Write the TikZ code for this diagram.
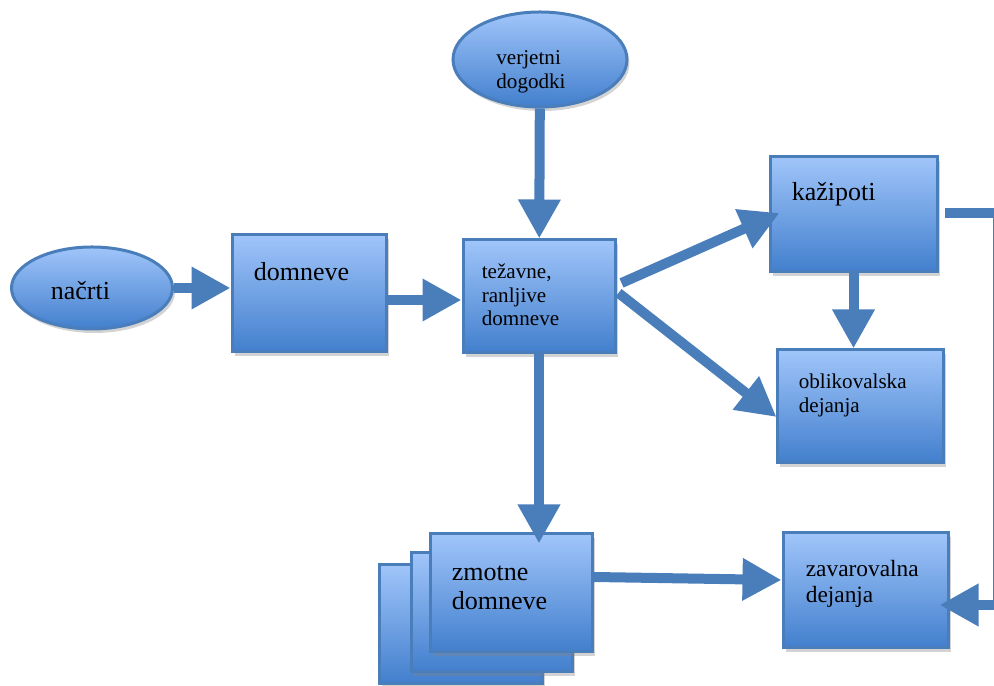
\documentclass[tikz,border=0pt]{standalone}
\usepackage{fontspec}
\setmainfont{Liberation Serif}
\usetikzlibrary{arrows.meta,positioning,shapes.geometric,shadows,calc}
\definecolor{obroba}{RGB}{74,126,187}
\definecolor{svetla}{RGB}{160,197,250}
\definecolor{temna}{RGB}{66,127,205}
\newcommand{\vel}{\fontsize{14.8}{16.3}\selectfont}
\newcommand{\mal}{\fontsize{12}{13.4}\selectfont}
\newcommand{\sred}{\fontsize{13.3}{14.8}\selectfont}
\tikzset{
  blok/.style={draw=obroba,line width=0.06cm,top color=svetla,bottom color=temna,minimum width=3.2cm,minimum height=2.3cm,inner sep=0pt,drop shadow={shadow xshift=0.05cm,shadow yshift=-0.08cm,opacity=0.35}},
  elip/.style={blok,ellipse},
  txt/.style={anchor=north west,align=left,inner sep=0pt,text=black},
  arr/.style={-{Triangle[length=0.78cm,width=0.8cm]},line width=0.2cm,draw=obroba},
}
\begin{document}
\begin{tikzpicture}
\useasboundingbox (0,0) rectangle (19.88,13.72);
\node[elip,minimum width=3.22cm,minimum height=1.64cm,label={[align=left,inner sep=0pt,font=\vel,xshift=-0.23cm,yshift=-0.05cm]center:načrti}] (nacrti) at (1.84,7.96) {};
\node[elip,minimum width=3.48cm,minimum height=1.9cm,label={[align=left,inner sep=0pt,font=\mal,xshift=-0.18cm,yshift=-0.25cm]center:verjetni\\dogodki}] (verjetni) at (10.8,12.53) {};
\node[blok,minimum width=3.08cm,minimum height=2.34cm,label={[txt,font=\vel,xshift=0.46cm,yshift=-0.58cm]north west:domneve}] (domneve) at (6.18,7.85) {};
\node[blok,minimum width=3.04cm,minimum height=2.26cm,label={[txt,font=\mal,xshift=0.4cm,yshift=-0.5cm]north west:težavne,\\ranljive\\domneve}] (tezavne) at (10.78,7.79) {};
\node[blok,minimum width=3.34cm,label={[txt,font=\vel,xshift=0.46cm,yshift=-0.54cm]north west:kažipoti}] (kazipoti) at (17.07,9.43) {};
\node[blok,minimum width=3.32cm,minimum height=2.26cm,label={[txt,font=\mal,xshift=0.46cm,yshift=-0.5cm]north west:oblikovalska\\dejanja}] (oblik) at (17.2,5.59) {};
\node[blok,minimum width=3.3cm,label={[txt,font=\sred,xshift=0.48cm,yshift=-0.56cm]north west:zavarovalna\\dejanja}] (zavar) at (17.31,1.91) {};
% zmotne domneve: kup listov
\node[blok,minimum width=3.26cm,minimum height=2.38cm] (zad2) at (9.21,1.24) {};
\node[blok,minimum width=3.22cm,minimum height=2.38cm] (zad1) at (9.83,1.47) {};
\node[blok,minimum width=3.24cm,minimum height=2.36cm,label={[txt,font=\vel,xshift=0.46cm,yshift=-0.66cm]north west:zmotne\\domneve}] (zmotne) at (10.22,1.86) {};
% povezave
\draw[arr] (nacrti.east) -- (nacrti.east -| domneve.west);
\draw[arr] ($(domneve.east)+(0,-0.13)$) -- ($(domneve.east -| tezavne.west)+(0,-0.13)$);
\draw[arr] (verjetni) -- (tezavne);
\draw[arr] ($(tezavne.east)+(0.1,0.27)$) -- ($(kazipoti.west)+(0.22,0.03)$);
\draw[arr] ($(tezavne.east)+(0.04,0.07)$) -- ($(oblik.west)+(0.02,-0.21)$);
\draw[arr] (tezavne.south) -- ($(tezavne.south |- zmotne.north)+(0,-0.22)$);
\draw[arr] (kazipoti.south) -- (kazipoti.south |- oblik.north);
\draw[arr] ($(zmotne.east)+(0,0.32)$) -- ($(zavar.west)+(0,0.21)$);
\draw[arr] ($(kazipoti.east)+(0.12,0.03)$) -- ++(1.06,0) |- ($(zavar.east)+(-0.2,-0.29)$);
\end{tikzpicture}
\end{document}
